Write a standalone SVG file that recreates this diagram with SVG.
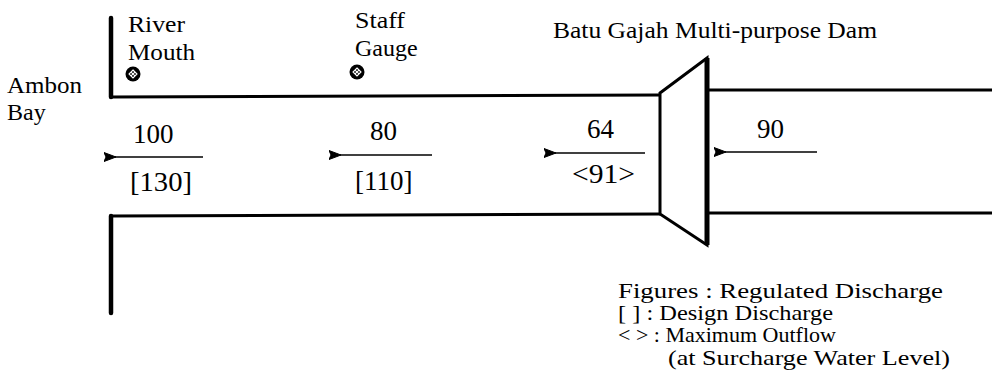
<svg xmlns="http://www.w3.org/2000/svg" width="992" height="385" viewBox="0 0 992 385">
<style>
  text{font-family:"Liberation Serif","Times New Roman",serif;fill:#000}
  .lbl{font-size:24px}
  .num{font-size:27px}
  .leg{font-size:22px}
  .bank{stroke:#000;stroke-width:3;fill:none;stroke-linecap:round}
  .wall{stroke:#000;stroke-width:4.5;fill:none;stroke-linecap:round}
  .flow{stroke:#000;stroke-width:1.6;fill:none}
</style>
<defs>
  <marker id="ah" viewBox="0 0 12 10" refX="1" refY="5" markerWidth="12" markerHeight="10" markerUnits="userSpaceOnUse" orient="auto">
    <path d="M12,0.5 L0,5 L12,9.5 L10,5 Z" fill="#000" stroke="#000" stroke-width="1" stroke-linejoin="round"/>
  </marker>
  <g id="gauge">
    <circle r="7.5" fill="#000"/>
    <path d="M0,-4 L4,0 L0,4 L-4,0 Z M-2.2,-2.2 L2.2,2.2 M2.2,-2.2 L-2.2,2.2" stroke="#fff" stroke-width="1.1" fill="none"/>
  </g>
</defs>
<rect width="992" height="385" fill="#fff"/>

<g id="river">
  <path class="wall" d="M111,18 L111,97"/>
  <path class="bank" d="M111,97 L660,95"/>
  <path class="bank" d="M707,90 L992,90"/>
  <path class="bank" d="M111,216 L660,214"/>
  <path class="wall" d="M111,216 L111,313"/>
  <path class="bank" d="M707,213 L992,213"/>
</g>

<g id="ambon-bay">
  <text class="lbl" x="7" y="93" textLength="75" lengthAdjust="spacingAndGlyphs">Ambon</text>
  <text class="lbl" x="7" y="120">Bay</text>
</g>

<g id="river-mouth">
  <text class="lbl" x="128" y="32" textLength="57" lengthAdjust="spacingAndGlyphs">River</text>
  <text class="lbl" x="128" y="60" textLength="67" lengthAdjust="spacingAndGlyphs">Mouth</text>
  <use href="#gauge" x="133" y="74"/>
</g>

<g id="staff-gauge">
  <text class="lbl" x="355" y="28" textLength="50" lengthAdjust="spacingAndGlyphs">Staff</text>
  <text class="lbl" x="355" y="56">Gauge</text>
  <use href="#gauge" x="357" y="72"/>
</g>

<g id="dam">
  <text class="lbl" x="553" y="38" textLength="324" lengthAdjust="spacingAndGlyphs">Batu Gajah Multi-purpose Dam</text>
  <path d="M660,93 L707,58 L707,245 L660,214 Z" fill="#fff" stroke="#000" stroke-width="3" stroke-linejoin="miter"/>
  <path d="M707,58 L707,245" stroke="#000" stroke-width="5"/>
</g>

<g id="discharge-labels">
  <text class="num" x="133" y="143">100</text>
  <text class="num" x="130" y="191" textLength="62" lengthAdjust="spacingAndGlyphs">[130]</text>
  <text class="num" x="370" y="140">80</text>
  <text class="num" x="355" y="190">[110]</text>
  <text class="num" x="572" y="183" textLength="63" lengthAdjust="spacingAndGlyphs">&lt;91&gt;</text>
  <text class="num" x="587" y="138">64</text>
  <text class="num" x="757" y="138">90</text>
</g>

<g id="connectors">
  <path class="flow" d="M203,157 L115,157" marker-end="url(#ah)"/>
  <path class="flow" d="M432,155 L340,155" marker-end="url(#ah)"/>
  <path class="flow" d="M645,153 L555,153" marker-end="url(#ah)"/>
  <path class="flow" d="M817,152 L725,152" marker-end="url(#ah)"/>
</g>

<g id="legend">
  <text class="leg" x="618" y="298" textLength="325" lengthAdjust="spacingAndGlyphs">Figures : Regulated Discharge</text>
  <text class="leg" x="618" y="320" textLength="215" lengthAdjust="spacingAndGlyphs">[ ] : Design Discharge</text>
  <text class="leg" x="618" y="342">&lt; &gt; : Maximum Outflow</text>
  <text class="leg" x="668" y="365" textLength="282" lengthAdjust="spacingAndGlyphs">(at Surcharge Water Level)</text>
</g>
</svg>
